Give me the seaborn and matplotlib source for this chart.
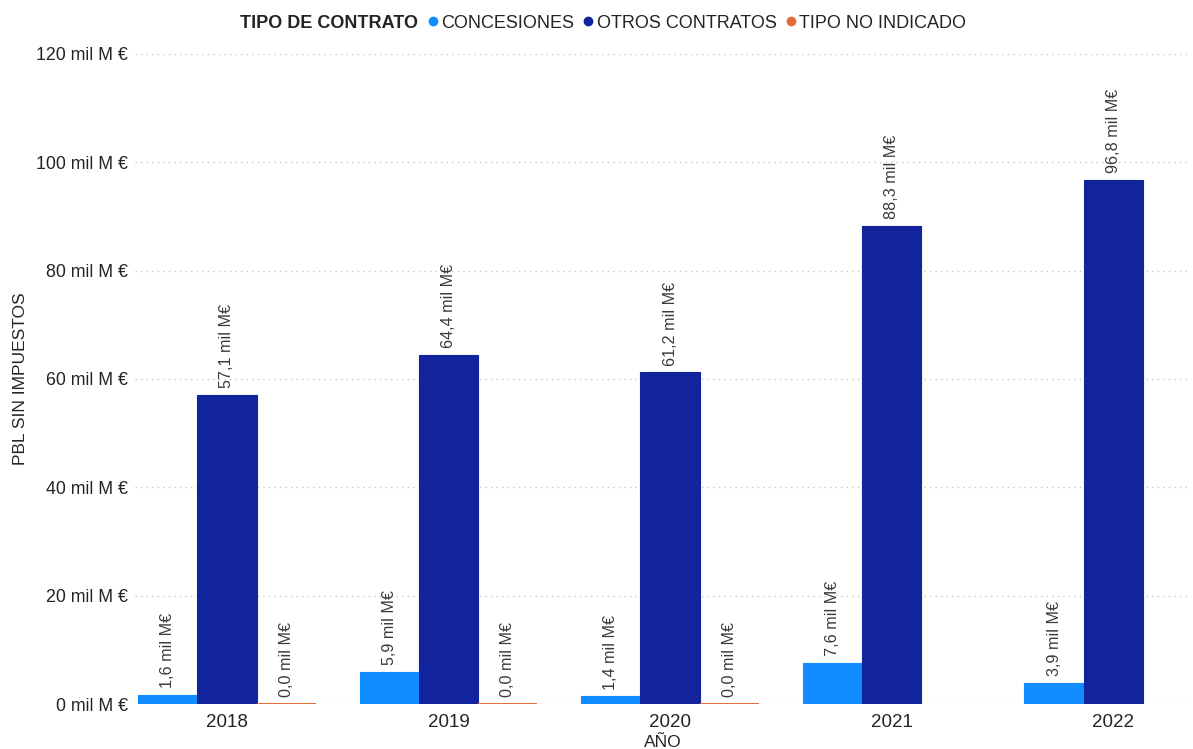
import matplotlib
matplotlib.use("Agg")
import matplotlib.pyplot as plt
import seaborn as sns
import pandas as pd
import numpy as np
from matplotlib.lines import Line2D

years = ["2018", "2019", "2020", "2021", "2022"]
concesiones = [1.6, 5.9, 1.4, 7.6, 3.9]
otros = [57.1, 64.4, 61.2, 88.3, 96.8]
no_indicado = [0.02, 0.02, 0.02, np.nan, np.nan]
series_names = ["CONCESIONES", "OTROS CONTRATOS", "TIPO NO INDICADO"]
colors = ["#118DFF", "#12239E", "#E66C37"]
yticks = [0, 20, 40, 60, 80, 100, 120]

rows = []
for name, vals in zip(series_names, [concesiones, otros, no_indicado]):
    for y, v in zip(years, vals):
        rows.append({"AÑO": y, "valor": v, "tipo": name})
df = pd.DataFrame(rows)

sns.set_theme(style="white")
plt.rcParams["font.family"] = ["Liberation Sans", "DejaVu Sans"]
txt = "#252423"

fig = plt.figure(figsize=(11.93, 7.49), dpi=100)
ax = fig.add_axes([0.113, 0.060, 0.885, 0.868])

sns.barplot(data=df, x="AÑO", y="valor", hue="tipo", hue_order=series_names,
            palette=colors, width=0.80, saturation=1, ax=ax, legend=False,
            errorbar=None)

for cont, c in zip(ax.containers, colors):
    for bar in cont:
        bar.set_edgecolor(c)
        bar.set_linewidth(1.4 if c == colors[2] else 0.8)
        h = bar.get_height()
        if np.isnan(h):
            continue
        lab = f"{h:.1f}".replace(".", ",") + " mil M€"
        ax.annotate(lab, (bar.get_x() + bar.get_width() / 2, h),
                    xytext=(0, 5), textcoords="offset points",
                    rotation=90, ha="center", va="bottom",
                    fontsize=11.6, color="#3a3a3a")

ax.set_ylim(0, 120)
ax.set_xlim(-0.416, 4.35)
ax.set_yticks(yticks)
ax.set_yticklabels([f"{t} mil M €" for t in yticks], fontsize=12.8, color=txt)
ax.tick_params(axis="x", labelsize=13.5, colors=txt, length=0, pad=7)
ax.tick_params(axis="y", length=0, pad=5)
ax.yaxis.grid(True, linestyle=(0, (1, 3)), color="#C8C8C8", linewidth=1)
ax.set_axisbelow(True)
for s in ax.spines.values():
    s.set_visible(False)
ax.set_ylabel("PBL SIN IMPUESTOS", fontsize=12.5, color=txt, labelpad=6)
ax.set_xlabel("AÑO", fontsize=12.5, color=txt, labelpad=3)

fig.text(0.201, 0.969, "TIPO DE CONTRATO", fontsize=13, fontweight="bold",
         color=txt, ha="left", va="center")
handles = [Line2D([0], [0], marker="o", linestyle="", markersize=6,
                  markerfacecolor=c, markeredgecolor=c) for c in colors]
fig.legend(handles, series_names, loc="center left", bbox_to_anchor=(0.356, 0.969),
           ncol=3, frameon=False, fontsize=13, handletextpad=0.0,
           columnspacing=0.35, borderaxespad=0, borderpad=0, labelcolor=txt,
           handlelength=0.9)

fig.savefig("out.png", dpi=100)
